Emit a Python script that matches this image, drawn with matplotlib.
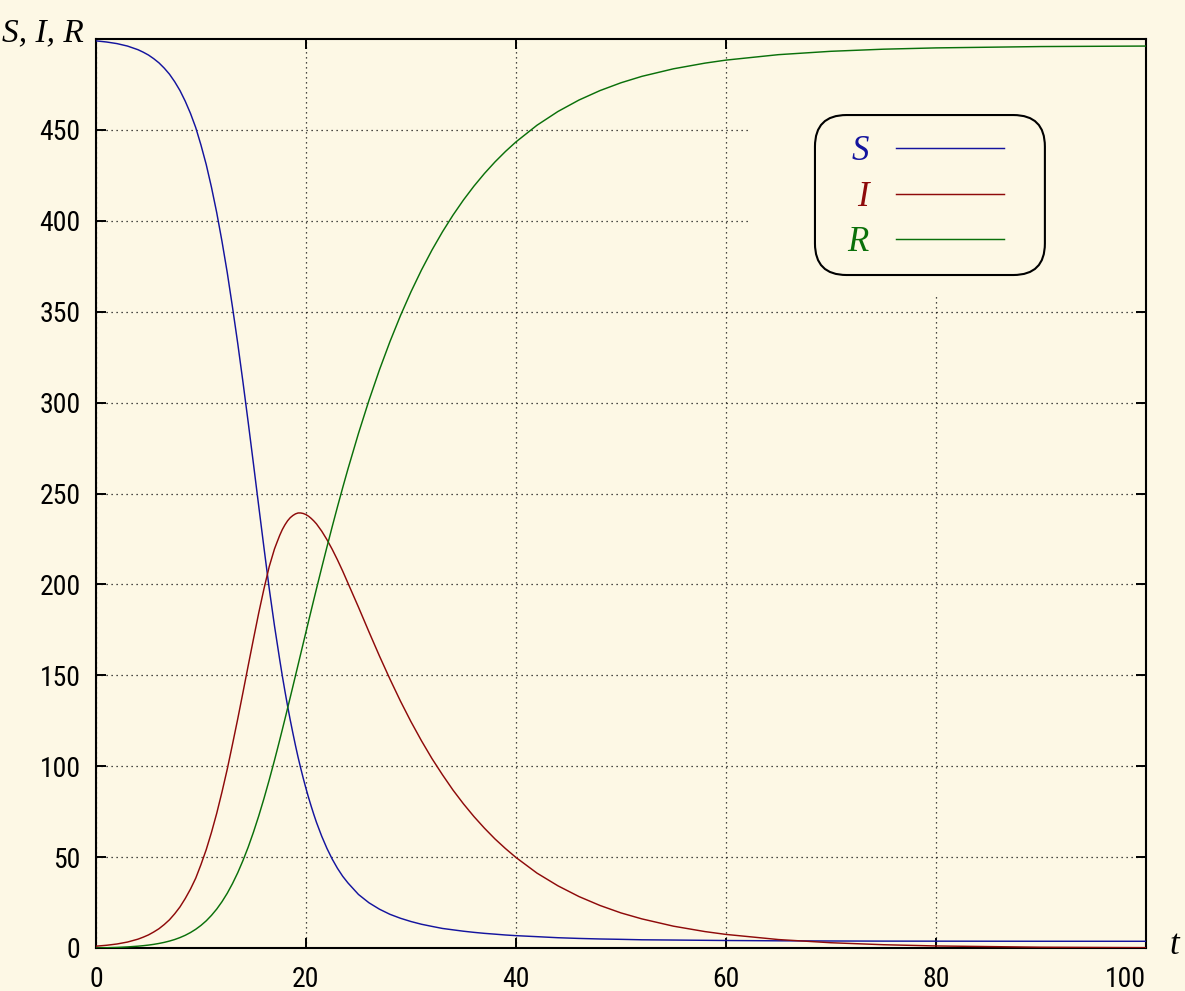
import matplotlib
matplotlib.use('Agg')
from matplotlib import pyplot as plt
from matplotlib.patches import FancyBboxPatch, Rectangle

# SIR epidemic: susceptible, infected and recovered counts over time
t = [0, 1, 2, 3, 4, 4.5, 5, 5.5, 6, 6.5, 7, 7.5, 8, 8.5, 9, 9.5, 10, 10.5,
     11, 11.5, 12, 12.5, 13, 13.5, 14, 14.5, 15, 15.5, 16, 16.5, 17, 17.25,
     17.5, 17.75, 18, 18.25, 18.5, 18.75, 19, 19.25, 19.5, 19.75, 20, 20.25,
     20.5, 20.75, 21, 21.5, 22, 22.5, 23, 23.5, 24, 25, 26, 27, 28, 29, 30,
     31, 32, 33, 34, 35, 36, 37, 38, 39, 40, 42, 44, 46, 48, 50, 52, 55, 58,
     60, 65, 70, 75, 80, 90, 100]
S = [499, 498.38, 497.49, 496.14, 494.14, 492.77, 491.2, 489.2, 486.89,
     484.01, 480.66, 476.5, 471.67, 465.82, 459.1, 451.31, 441.67, 430.96,
     418.45, 404.49, 388.74, 371.62, 352.59, 332.62, 311.28, 289.06, 266.26,
     243.07, 220.17, 197.74, 177.27, 167.91, 158.55, 149.6, 141.18, 133.1,
     125.47, 118.3, 111.41, 104.9, 98.88, 93.17, 87.77, 82.69, 77.93, 73.4,
     69.11, 61.48, 54.76, 48.9, 43.82, 39.44, 35.78, 29.45, 24.87, 21.34,
     18.52, 16.35, 14.56, 13.06, 11.88, 10.75, 9.99, 9.23, 8.6, 8.05, 7.61,
     7.15, 6.79, 6.23, 5.65, 5.26, 4.96, 4.76, 4.51, 4.37, 4.22, 4.12, 3.95,
     3.85, 3.78, 3.75, 3.7, 3.69]
I = [1, 1.49, 2.2, 3.27, 4.86, 5.96, 7.2, 8.8, 10.61, 12.9, 15.53, 18.83,
     22.6, 27.2, 32.4, 38.4, 45.9, 54.1, 63.6, 74.1, 85.8, 98.3, 112, 126,
     140.6, 155.4, 170, 184.3, 197.6, 209.8, 219.5, 223.3, 227, 230.2, 232.8,
     235, 236.7, 237.9, 238.8, 239.3, 239.3, 239, 238.4, 237.5, 236.3, 234.9,
     233.3, 229.3, 224.6, 219.3, 213.5, 207.3, 200.7, 187.5, 173.9, 160.6,
     147.9, 135.8, 124.5, 114, 104.2, 95.3, 86.9, 79.3, 72.3, 65.9, 60, 54.7,
     49.8, 41.2, 34.2, 28.3, 23.4, 19.3, 16, 12, 9.03, 7.47, 4.64, 2.89, 1.8,
     1.12, 0.43, 0.17]
R = [0, 0.13, 0.31, 0.59, 1.0, 1.27, 1.6, 2.0, 2.5, 3.09, 3.81, 4.67, 5.73,
     6.98, 8.5, 10.29, 12.43, 14.94, 17.95, 21.41, 25.46, 30.08, 35.41, 41.38,
     48.12, 55.54, 63.74, 72.63, 82.23, 92.46, 103.23, 108.79, 114.45, 120.2,
     126.02, 131.9, 137.83, 143.8, 149.79, 155.8, 161.82, 167.83, 173.83,
     179.81, 185.77, 191.7, 197.59, 209.22, 220.64, 231.8, 242.68, 253.26,
     263.52, 283.05, 301.23, 318.06, 333.58, 347.85, 360.94, 372.94, 383.92,
     393.95, 403.11, 411.47, 419.1, 426.05, 432.39, 438.15, 443.41, 452.57,
     460.15, 466.44, 471.64, 475.94, 479.49, 483.63, 486.75, 488.41, 491.41,
     493.26, 494.42, 495.13, 495.87, 496.14]

x_ticks = [0, 20, 40, 60, 80, 100]
y_ticks = [0, 50, 100, 150, 200, 250, 300, 350, 400, 450]

bg = '#fdf8e5'
col_s = '#14149e'
col_i = '#8e0a0a'
col_r = '#0a700a'
num_font = ['Roboto Condensed', 'Liberation Sans Narrow', 'DejaVu Sans']
sym_font = ['Liberation Serif', 'DejaVu Serif']

fig = plt.figure(figsize=(11.85, 9.91), dpi=100, facecolor=bg)
ax = fig.add_axes([0.081, 0.0434, 0.886, 0.9172])
ax.set_facecolor(bg)

ax.plot(t, S, color=col_s, lw=1.05, label='S', zorder=3)
ax.plot(t, I, color=col_i, lw=1.05, label='I', zorder=3)
ax.plot(t, R, color=col_r, lw=1.05, label='R', zorder=3)

ax.set_xlim(0, 100)
ax.set_ylim(0, 500)
ax.set_xticks(x_ticks)
ax.set_yticks(y_ticks)
ax.set_xticklabels([str(v) for v in x_ticks], family=num_font,
                   fontstretch='condensed', fontsize=20)
ax.set_yticklabels([str(v) for v in y_ticks], family=num_font,
                   fontstretch='condensed', fontsize=20)
ax.get_xticklabels()[-1].set_ha('right')
ax.tick_params(direction='in', length=7, width=1.4, top=True, right=True,
               color='black')
ax.tick_params(axis='x', pad=13)
ax.tick_params(axis='y', pad=11)
for sp in ax.spines.values():
    sp.set_linewidth(1.5)

ax.set_axisbelow(True)
ax.grid(True, color='#111111', lw=0.9, linestyle=(0, (1, 3)))

# clear area behind the key
ax.add_patch(Rectangle((0.623, 0.716), 0.377, 0.284, transform=ax.transAxes,
                       facecolor=bg, edgecolor='none', zorder=1))
ax.add_patch(FancyBboxPatch((0.6848, 0.7404), 0.219, 0.176,
                            boxstyle='round,pad=0,rounding_size=0.03',
                            mutation_aspect=1050 / 909,
                            transform=ax.transAxes, facecolor='none',
                            edgecolor='black', lw=1.5, zorder=4))

leg = ax.legend(loc='upper left', bbox_to_anchor=(0.699, 0.913), frameon=False,
                markerfirst=False, handlelength=3.1, handletextpad=0.8,
                labelspacing=0.36, borderpad=0,
                prop={'family': sym_font, 'style': 'italic', 'size': 25})
for txt, c in zip(leg.get_texts(), [col_s, col_i, col_r]):
    txt.set_color(c)

fig.text(0.071, 0.958, 'S, I, R', family=sym_font, style='italic', fontsize=24,
         ha='right', va='baseline')
fig.text(0.987, 0.037, 't', family=sym_font, style='italic', fontsize=25,
         ha='left', va='baseline')

fig.savefig('out.png', dpi=100, facecolor=bg)
